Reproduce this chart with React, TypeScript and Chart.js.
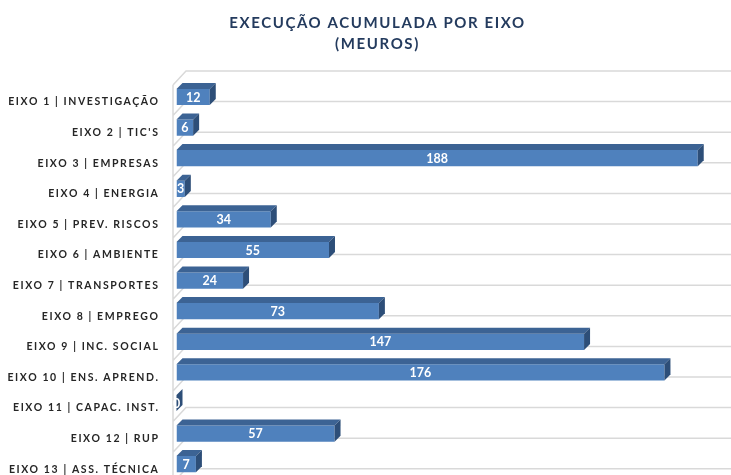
import React, { useEffect, useRef } from 'react';
import { Chart, registerables } from 'chart.js';

Chart.register(...registerables);

const titleLines = ['EXECUÇÃO ACUMULADA POR EIXO', '(MEUROS)'];
const categories = [
  'EIXO 1 | INVESTIGAÇÃO',
  "EIXO 2 | TIC'S",
  'EIXO 3 | EMPRESAS',
  'EIXO 4 | ENERGIA',
  'EIXO 5 | PREV. RISCOS',
  'EIXO 6 | AMBIENTE',
  'EIXO 7 | TRANSPORTES',
  'EIXO 8 | EMPREGO',
  'EIXO 9 | INC. SOCIAL',
  'EIXO 10 | ENS. APREND.',
  'EIXO 11 | CAPAC. INST.',
  'EIXO 12 | RUP',
  'EIXO 13 | ASS. TÉCNICA',
];
const values = [12, 6, 188, 3, 34, 55, 24, 73, 147, 176, 0, 57, 7];
const axisMin = 0;
const axisMax = 200;

const FRONT = '#4F81BD';
const TOP = '#3C6394';
const SIDE = '#2D4E78';
const GRID = '#D9D9D9';
const DEPTH = 6;
const TITLE_SPACING = '1.6px';
const TICK_SPACING = '1.5px';

const threeD = {
  id: 'threeD',
  beforeDraw(chart: any) {
    chart.ctx.letterSpacing = TITLE_SPACING;
  },
  beforeDatasetsDraw(chart: any) {
    const { ctx, chartArea } = chart;
    const n = chart.data.labels.length;
    const pitch = (chartArea.bottom - chartArea.top) / n;
    const fx = chartArea.left - 3.5;
    const bx = chartArea.left + 9.5;
    ctx.save();
    ctx.strokeStyle = GRID;
    ctx.lineWidth = 1.5;
    ctx.beginPath();
    for (let i = 0; i <= n; i++) {
      const e = chartArea.top + pitch * i;
      ctx.moveTo(fx, e + 3.3);
      ctx.lineTo(bx, e - 10.7);
      ctx.lineTo(chart.width, e - 10.7);
    }
    ctx.moveTo(fx, chartArea.top + 3.3);
    ctx.lineTo(fx, chart.height);
    ctx.stroke();
    ctx.restore();
  },
  afterDatasetsDraw(chart: any) {
    const { ctx } = chart;
    const meta = chart.getDatasetMeta(0);
    const data = chart.data.datasets[0].data;
    ctx.save();
    meta.data.forEach((bar: any, i: number) => {
      const { x, y, base, height } = bar.getProps(['x', 'y', 'base', 'height'], true);
      const top = y - height / 2;
      const bot = y + height / 2;
      const x0 = Math.min(base, x);
      const x1 = Math.max(base, x);
      // top face
      ctx.fillStyle = TOP;
      ctx.beginPath();
      ctx.moveTo(x0, top);
      ctx.lineTo(x0 + DEPTH, top - DEPTH);
      ctx.lineTo(x1 + DEPTH, top - DEPTH);
      ctx.lineTo(x1, top);
      ctx.closePath();
      ctx.fill();
      // side face
      ctx.fillStyle = SIDE;
      ctx.beginPath();
      ctx.moveTo(x1, top);
      ctx.lineTo(x1 + DEPTH, top - DEPTH);
      ctx.lineTo(x1 + DEPTH, bot - DEPTH);
      ctx.lineTo(x1, bot);
      ctx.closePath();
      ctx.fill();
      // value label
      ctx.letterSpacing = '0px';
      ctx.fillStyle = '#FFFFFF';
      ctx.font = 'bold 12.5px Lato';
      ctx.textAlign = 'center';
      ctx.textBaseline = 'middle';
      ctx.fillText(String(data[i]), (x0 + x1) / 2, y + 0.5);
    });
    ctx.restore();
    ctx.letterSpacing = TICK_SPACING;
  },
};

export default function App() {
  const ref = useRef<HTMLCanvasElement | null>(null);
  useEffect(() => {
    if (!ref.current) return;
    const chart = new Chart(ref.current, {
      type: 'bar',
      data: {
        labels: categories,
        datasets: [
          {
            data: values,
            backgroundColor: FRONT,
            borderWidth: 0,
            categoryPercentage: 1,
            barPercentage: 0.53,
          },
        ],
      },
      options: {
        indexAxis: 'y',
        animation: false,
        responsive: false,
        events: [],
        layout: { padding: { top: 0, left: 0, right: -24, bottom: 2.5 } },
        plugins: {
          legend: { display: false },
          tooltip: { enabled: false },
          title: {
            display: true,
            text: titleLines,
            color: '#243B5E',
            font: { family: 'Lato', size: 15, weight: 'bold', lineHeight: 1.4 },
            padding: { top: 12.3, bottom: 27.4 },
          },
        },
        scales: {
          x: {
            display: false,
            min: axisMin,
            max: axisMax,
          },
          y: {
            z: 1,
            grid: { display: false, drawTicks: false },
            border: { display: false },
            ticks: {
              color: '#262626',
              font: { family: 'Lato', size: 10.5, weight: 'bold' },
              padding: 17,
              labelOffset: 5,
              autoSkip: false,
            },
            afterFit: (scale: any) => {
              scale.width = 176.5;
              scale.paddingTop = 0;
              scale.paddingBottom = 0;
            },
          },
        },
      },
      plugins: [threeD],
    });
    return () => chart.destroy();
  }, []);
  return (
    <div style={{ position: 'fixed', left: 0, top: 0, width: 731, height: 475, overflow: 'hidden', background: '#fff' }}>
      <canvas ref={ref} width={731} height={482} style={{ display: 'block' }} />
    </div>
  );
}
